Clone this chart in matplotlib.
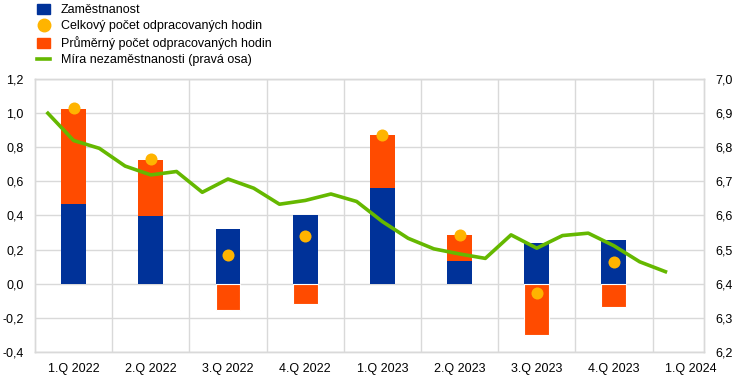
import numpy as np
import matplotlib.pyplot as plt
from matplotlib.lines import Line2D
from matplotlib.patches import Patch

plt.rcParams['font.family'] = ['Liberation Sans', 'DejaVu Sans']

quarters = ['1.Q 2022', '2.Q 2022', '3.Q 2022', '4.Q 2022', '1.Q 2023',
            '2.Q 2023', '3.Q 2023', '4.Q 2023', '1.Q 2024']
employment = [0.47, 0.395, 0.323, 0.40, 0.564, 0.135, 0.239, 0.258]
avg_hours = [0.555, 0.333, -0.157, -0.12, 0.306, 0.153, -0.30, -0.135]
total_hours = [1.03, 0.734, 0.170, 0.282, 0.87, 0.288, -0.053, 0.127]
# monthly unemployment rate, Jan 2022 - Jan 2024
unemployment = [6.900, 6.820, 6.797, 6.745, 6.719, 6.729, 6.668, 6.707, 6.680,
                6.633, 6.644, 6.663, 6.641, 6.582, 6.533, 6.502, 6.487, 6.474,
                6.543, 6.504, 6.541, 6.548, 6.511, 6.464, 6.435]

blue = '#003299'
orange = '#ff4b00'
yellow = '#ffb400'
green = '#65b800'
grid = '#d9d9d9'

fig = plt.figure(figsize=(7.45, 3.77), dpi=100)
ax = fig.add_axes([0.047, 0.067, 0.898, 0.723])
ax2 = ax.twinx()

# x in months: quarter q spans [3q, 3q+3]
qx = np.arange(len(employment)) * 3 + 1.5
mx = np.arange(len(unemployment)) + 0.5

ax.bar(qx, employment, width=0.97, color=blue, zorder=2)
base = [e if a > 0 else 0 for e, a in zip(employment, avg_hours)]
lw = [0 if a > 0 else 0.8 for a in avg_hours]
ax.bar(qx, avg_hours, width=0.97, bottom=base, color=orange,
       edgecolor='white', linewidth=lw, zorder=2)
ax.scatter(qx, total_hours, s=75, color=yellow, zorder=4, linewidths=0)

ax2.plot(mx, unemployment, color=green, lw=2.6, zorder=3)

ax.set_xlim(0, 26)
ax.set_ylim(-0.4, 1.2)
ax.set_yticks(np.arange(-0.4, 1.21, 0.2))
ax.set_yticklabels([f'{v:.1f}'.replace('.', ',') for v in np.arange(-0.4, 1.21, 0.2)])
ax2.set_ylim(6.2, 7.0)
ax2.set_yticks(np.arange(6.2, 7.01, 0.1))
ax2.set_yticklabels([f'{v:.1f}'.replace('.', ',') for v in np.arange(6.2, 7.01, 0.1)])

ax.set_xticks(np.arange(3, 25, 3))
ax.set_xticklabels([])
ax.set_xticks(np.arange(len(quarters)) * 3 + 1.5, minor=True)
ax.set_xticklabels(quarters, minor=True)
ax.tick_params(axis='x', which='both', length=0, pad=8, labelsize=9)
ax.tick_params(axis='y', length=0, pad=8, labelsize=9)
ax2.tick_params(axis='y', length=0, pad=8, labelsize=9)

ax.grid(True, which='major', color=grid, lw=1, zorder=0)
ax.set_axisbelow(True)
for a in (ax, ax2):
    for s in a.spines.values():
        s.set_color(grid)
        s.set_linewidth(1)
ax2.set_zorder(ax.get_zorder() + 1)
ax2.patch.set_visible(False)

handles = [
    Patch(color=blue),
    Line2D([], [], marker='o', color=yellow, ls='none', markersize=9),
    Patch(color=orange),
    Line2D([], [], color=green, lw=2.6),
]
labels = ['Zaměstnanost', 'Celkový počet odpracovaných hodin',
          'Průměrný počet odpracovaných hodin', 'Míra nezaměstnanosti (pravá osa)']
fig.legend(handles, labels, loc='upper left', bbox_to_anchor=(0.035, 1.02),
           frameon=False, fontsize=9, handlelength=1.0, handleheight=0.9,
           handletextpad=0.9, labelspacing=0.3)

fig.savefig('out.png', dpi=100)
